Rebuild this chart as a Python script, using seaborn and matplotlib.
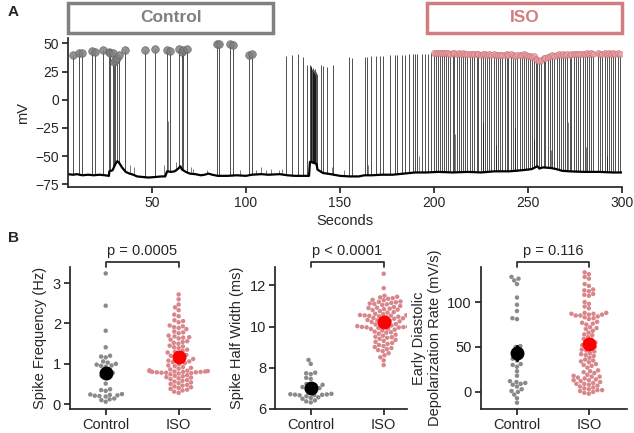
import numpy as np
import pandas as pd
import seaborn as sns
import matplotlib.pyplot as plt
from matplotlib.patches import Rectangle

# ---- Panel A: membrane potential trace ----
# baseline knots (seconds, mV)
base_t = [5, 8, 10, 13, 16, 19, 22, 25, 27, 27.3, 29, 30.5, 31.5, 32.5, 34, 36, 38, 40, 42, 45,
          48, 52, 55, 57, 58, 60, 62, 64, 65, 66, 68, 70, 73, 76, 78, 80, 82, 85, 90, 95,
          100, 103, 108, 112, 118, 122, 126, 130, 133.5, 134, 136, 137.5, 138, 139, 141, 145, 150, 155, 160, 163,
          167, 172, 178, 184, 190, 196, 202, 210, 218, 225, 232, 240, 247, 252, 255, 256, 258, 262, 265, 268,
          272, 280, 288, 295, 300]
base_v = [-66, -66.5, -66, -67, -66.5, -67, -66.5, -67, -67.5, -63.5, -62.5, -57, -54.5, -56, -60, -64, -65.5, -66.5, -68, -68.5,
          -69, -68.5, -68, -68, -63.5, -64, -63.5, -61, -59, -62, -64, -65.5, -66, -67, -66.5, -65.5, -66.5, -67.5, -67.5, -67,
          -67.5, -66.5, -66, -66.5, -66, -67, -67.5, -67.5, -67.5, -55, -56, -57, -62, -63, -65, -66, -67.5, -68, -68, -67,
          -67, -66.5, -66.5, -65.5, -64.5, -64.5, -64, -64.5, -64, -64.5, -63.5, -63.5, -62.5, -61.5, -59, -61, -60, -60.5, -61.5, -63,
          -63.5, -64, -64, -64.5, -64.5]

# spikes during the Control period (marked)
control_times = [8.2, 11.4, 12.8, 17.9, 19.5, 23.8, 27.0, 27.7, 29.4, 29.9, 30.5, 31.2, 32.6, 35.6,
                 46.3, 51.6, 57.8, 59.6, 64.2, 65.8, 66.7, 68.4, 84.4, 85.8, 91.5, 92.9, 101.8, 103.4]
control_peaks = [39.7, 41.2, 41.0, 43.0, 42.6, 43.8, 42.6, 41.2, 41.8, 33.0, 35.3, 37.4, 39.4, 43.8,
                 43.8, 45.3, 44.2, 43.5, 45.3, 42.4, 44.2, 45.3, 49.4, 49.2, 49.0, 48.8, 39.7, 40.2]

# spikes between the two periods (unmarked)
mid_times = [121.3, 124.3, 127.5, 130.2, 132.6,
             134.2, 134.5, 134.8, 135.1, 135.4, 135.7, 136.0, 136.3, 136.6, 136.9, 137.3, 137.6,
             139.7, 141.1, 142.9, 146.1, 155.0, 156.2,
             163.3, 164.5, 166.3, 168.9, 171.3, 172.7, 176.6, 179.3, 180.5, 182.8, 184.6, 186.9,
             189.0, 189.9, 191.2, 193.5, 195.2, 197.0, 198.2]
mid_peaks = [38.7, 39.6, 40.5, 38.1, 30.8,
             31, 29, 30, 27, 28, 25, 26, 24, 27, 22, 25, 23,
             31, 30, 29, 31, 37.6, 37.2,
             38.0, 38.2, 38.5, 38.4, 38.8, 39.0, 39.2, 39.5, 39.3, 39.8, 40.0, 40.2,
             40.1, 40.4, 40.5, 40.7, 40.6, 40.9, 41.0]

# spikes during ISO (marked)
iso_times = [200.2, 201.0, 202.1, 203.0, 204.3, 205.1, 206.4, 207.2, 208.5, 209.9,
             210.8, 212.0, 213.1, 214.5, 215.3, 216.7, 217.6, 218.9, 220.3, 221.2,
             222.6, 223.4, 224.8, 226.0, 227.1, 228.2, 229.5, 230.4, 231.8, 232.9,
             234.0, 235.3, 236.1, 237.5, 238.8, 239.6, 240.9, 242.2, 243.0, 244.4,
             245.5, 246.7, 247.6, 248.9, 250.1, 251.2, 252.0, 253.3, 254.2, 255.0,
             255.9, 257.1, 258.3, 259.2, 260.6, 261.5, 262.9, 263.8, 265.2, 266.4,
             267.3, 268.7, 269.6, 270.9, 272.3, 273.1, 274.5, 275.4, 276.8, 277.9,
             279.0, 280.2, 281.5, 282.3, 283.6, 284.8, 287.4, 288.5, 289.3, 290.7,
             291.8, 293.0, 294.2, 295.1, 296.5, 297.6, 298.9]
iso_peaks = [41.5, 41.8, 41.2, 41.6, 41.0, 41.4, 41.7, 41.3, 40.9, 41.2,
             41.5, 40.8, 41.1, 40.6, 41.0, 40.4, 40.9, 40.7, 40.2, 40.6,
             40.3, 40.8, 40.0, 40.5, 40.1, 39.8, 40.4, 39.9, 40.2, 39.6,
             40.0, 39.4, 39.9, 39.2, 40.1, 39.5, 40.3, 39.7, 39.0, 40.0,
             39.8, 39.3, 40.2, 39.6, 39.1, 38.6, 37.8, 38.4, 36.5, 35.2,
             34.0, 35.5, 36.8, 37.4, 38.2, 38.9, 39.5, 39.1, 39.8, 40.2,
             39.6, 40.4, 40.0, 40.6, 39.9, 40.5, 40.8, 40.1, 40.7, 40.3,
             40.9, 40.5, 41.0, 40.6, 41.2, 40.8, 41.1, 40.4, 40.9, 41.3,
             40.7, 41.0, 40.6, 41.2, 40.8, 41.1, 40.5]

# small / failed upstrokes
minor_times = [38.5, 40.5, 56.5, 58.3, 62.5, 70.5, 72, 79, 97, 105.5, 108, 110.5, 113.5, 117.5, 119,
               145.5, 152, 165, 192, 211, 226, 233, 243, 253, 262, 271, 281, 292]
minor_peaks = [-58, -60, -58, -19, -55, -60, -61, -62, -62, -62, -60, -62, -61, -62, -61,
               -60, -62, -58, -50, -30, -20, -40, -25, -35, -45, -20, -42, -50]

# ---- Panel B: per-beat measurements ----
groups = ['Control', 'ISO']
freq_control = [3.24, 2.44, 1.82, 1.41, 1.20, 1.18, 1.16, 1.06, 1.03, 1.00, 0.98, 0.96, 0.95, 0.93, 0.86,
                0.82, 0.78, 0.74, 0.70, 0.65, 0.51, 0.37, 0.35, 0.33, 0.25, 0.24, 0.23, 0.22, 0.21, 0.20,
                0.19, 0.14, 0.12, 0.10, 0.06]
freq_iso = [2.72, 2.60, 2.47, 2.40, 2.33, 2.22, 2.18, 2.08, 2.06, 2.03,
            1.95, 1.93, 1.91, 1.89, 1.86, 1.80, 1.78, 1.76, 1.70, 1.68,
            1.66, 1.65, 1.63, 1.60, 1.56, 1.54, 1.52, 1.50, 1.45, 1.43,
            1.41, 1.39, 1.35, 1.32, 1.30, 1.28, 1.25, 1.22, 1.20, 1.18,
            1.15, 1.12, 1.10, 1.08, 1.06, 1.04, 1.02, 0.99, 0.96, 0.94,
            0.92, 0.90, 0.88, 0.86, 0.84, 0.83, 0.82, 0.82, 0.81, 0.81,
            0.80, 0.80, 0.80, 0.79, 0.79, 0.78, 0.78, 0.77, 0.76, 0.74,
            0.72, 0.70, 0.69, 0.67, 0.66, 0.64, 0.62, 0.60, 0.58, 0.56,
            0.54, 0.52, 0.50, 0.48, 0.46, 0.44, 0.42, 0.40, 0.38, 0.36,
            0.34, 0.31, 0.28]

hw_control = [8.37, 8.18, 7.75, 7.72, 7.68, 7.50, 7.45, 7.20, 7.16, 7.14, 7.12, 7.05, 7.00, 6.95, 6.90,
              6.85, 6.72, 6.70, 6.69, 6.68, 6.67, 6.66, 6.65, 6.60, 6.55, 6.52, 6.48, 6.40, 6.35, 6.30]
hw_iso = [12.57, 11.87, 11.50, 11.45, 11.42, 11.38, 11.35, 11.30, 11.28, 11.22, 11.20, 11.18, 11.15,
          11.12, 11.10, 11.08, 11.05, 11.00, 10.95, 10.92, 10.90, 10.87, 10.85, 10.82, 10.80,
          10.75, 10.70, 10.68, 10.62, 10.60, 10.58, 10.56, 10.55, 10.54, 10.53, 10.52, 10.50,
          10.48, 10.45, 10.42, 10.40, 10.38, 10.35, 10.32, 10.30, 10.28, 10.25, 10.22, 10.20, 10.15,
          10.12, 10.10, 10.05, 10.02, 10.00, 9.99, 9.98, 9.97, 9.96, 9.95, 9.93, 9.90, 9.88,
          9.85, 9.80, 9.75, 9.72, 9.70, 9.65, 9.60, 9.55, 9.50, 9.48, 9.45, 9.40, 9.35, 9.30,
          9.25, 9.20, 9.15, 9.10, 9.05, 9.00, 8.95, 8.90, 8.85, 8.80, 8.70, 8.60, 8.50, 8.35, 8.12]

eddr_control = [128, 126, 124, 120, 105, 97, 90, 82, 81, 51, 50, 46, 44, 40, 37, 35, 31, 30, 28, 23,
                18, 12, 11, 10, 9, 8, 6, 3, 1, 0, -3, -7, -12]
eddr_iso = [133, 131, 128, 126, 120, 118, 114, 113, 112, 109, 108, 107, 100, 98, 95, 93, 88, 88, 87, 87,
            86, 86, 85, 85, 84, 83, 82, 81, 78, 77, 76, 75, 72, 71, 70, 68, 66, 64, 63, 61,
            59, 58, 56, 55, 53, 52, 51, 50, 48, 47, 46, 45, 43, 42, 41, 40, 38, 36, 35, 34,
            33, 31, 30, 29, 27, 24, 23, 22, 21, 19, 18, 17, 17, 16, 15, 14, 13, 13, 12, 11,
            10, 9, 9, 8, 7, 6, 5, 4, 3, 2, 2, 1, 0, -1, -2]

p_values = ['p = 0.0005', 'p < 0.0001', 'p = 0.116']

sns.set_theme(style='ticks')
plt.rcParams['font.family'] = ['Liberation Sans', 'DejaVu Sans']
plt.rcParams['axes.unicode_minus'] = True
plt.rcParams['xtick.major.size'] = 4
plt.rcParams['ytick.major.size'] = 4
plt.rcParams['xtick.major.pad'] = 2.5
plt.rcParams['ytick.major.pad'] = 2.5

grey = '#808080'
pink = '#d27d82'

fig = plt.figure(figsize=(6.34, 4.33), dpi=100)

# ---- trace ----
ax = fig.add_axes([0.1073, 0.5681, 0.8738, 0.3441])
all_t = np.array(control_times + mid_times + iso_times)
all_p = np.array(control_peaks + mid_peaks + iso_peaks)
ax.vlines(all_t, np.interp(all_t, base_t, base_v), all_p, color='black', lw=0.6, alpha=0.8)
ax.vlines(minor_times, np.interp(minor_times, base_t, base_v), minor_peaks, color='black', lw=0.5, alpha=0.7)
sns.lineplot(x=base_t, y=base_v, sort=False, color='black', lw=1.6, ax=ax)
sns.scatterplot(x=control_times, y=control_peaks, color=grey, s=30, alpha=0.85,
                edgecolor='#606060', linewidth=0.5, ax=ax, zorder=5)
sns.scatterplot(x=iso_times, y=iso_peaks, color='#e4a2a6', s=18, alpha=0.75,
                edgecolor='#cf6f75', linewidth=0.6, ax=ax, zorder=5)
ax.set_xlim(5.3, 300)
ax.set_ylim(-77.4, 54.7)
ax.set_xticks([50, 100, 150, 200, 250, 300])
ax.set_yticks([-75, -50, -25, 0, 25, 50])
ax.set_xlabel('Seconds', fontsize=10.5, labelpad=3)
ax.set_ylabel('mV', fontsize=10.5)
ax.tick_params(labelsize=10)
sns.despine(ax=ax)

# condition boxes above the trace
tr = ax.get_xaxis_transform()
ax.add_patch(Rectangle((5.3, 1.035), 109.2, 0.2, transform=tr, fill=False,
                       edgecolor=grey, lw=2.5, clip_on=False))
ax.text(60, 1.135, 'Control', transform=tr, ha='center', va='center',
        color=grey, fontsize=12.5, fontweight='bold')
ax.add_patch(Rectangle((196, 1.035), 104, 0.2, transform=tr, fill=False,
                       edgecolor=pink, lw=2.5, clip_on=False))
ax.text(248, 1.135, 'ISO', transform=tr, ha='center', va='center',
        color=pink, fontsize=12.5, fontweight='bold')

fig.text(0.012, 0.972, 'A', fontsize=11, fontweight='bold', va='center')
fig.text(0.012, 0.451, 'B', fontsize=11, fontweight='bold', va='center')

# ---- swarm panels ----
def make_df(ctrl, iso):
    return pd.DataFrame({'group': ['Control'] * len(ctrl) + ['ISO'] * len(iso),
                         'value': list(ctrl) + list(iso)})

panels = [
    (make_df(freq_control, freq_iso), [0.1104, 0.0554, 0.2208, 0.328], (-0.49, 1.43), (-0.12, 3.4),
     [0, 1, 2, 3], 'Spike Frequency (Hz)'),
    (make_df(hw_control, hw_iso), [0.4338, 0.0554, 0.2082, 0.328], (-0.49, 1.32), (5.98, 12.9),
     [6, 8, 10, 12], 'Spike Half Width (ms)'),
    (make_df(eddr_control, eddr_iso), [0.7587, 0.0554, 0.2303, 0.328], (-0.5, 1.53), (-19, 139),
     [0, 50, 100], 'Early Diastolic\nDepolarization Rate (mV/s)'),
]

for (df, pos, xl, yl, yt, lab), ptxt in zip(panels, p_values):
    axb = fig.add_axes(pos)
    sns.swarmplot(data=df, x='group', y='value', hue='group', order=groups,
                  palette={'Control': '#8a8a8a', 'ISO': '#d9868b'}, size=3.2,
                  legend=False, ax=axb)
    n_before = len(axb.lines)
    sns.pointplot(data=df, x='group', y='value', hue='group', order=groups,
                  palette={'Control': 'black', 'ISO': 'red'}, errorbar='se',
                  linestyle='none', markersize=8, err_kws={'linewidth': 2.2},
                  legend=False, ax=axb)
    # keep the means on top of the swarm
    for ln in axb.lines[n_before:]:
        ln.set_zorder(10)
    for coll in axb.collections[2:]:
        coll.set_zorder(10)
    axb.set_xlim(*xl)
    axb.set_ylim(*yl)
    axb.set_yticks(yt)
    axb.set_xlabel('')
    axb.set_ylabel(lab, fontsize=10.5)
    axb.tick_params(labelsize=10.5)
    sns.despine(ax=axb)
    # significance bracket
    btr = axb.get_xaxis_transform()
    axb.plot([0, 0, 1, 1], [1.0, 1.038, 1.038, 1.0], color='#333333', lw=1.3,
             transform=btr, clip_on=False)
    axb.text(0.5, 1.06, ptxt, transform=btr, ha='center', va='bottom', fontsize=10.5)

fig.savefig('out.png', dpi=100)
